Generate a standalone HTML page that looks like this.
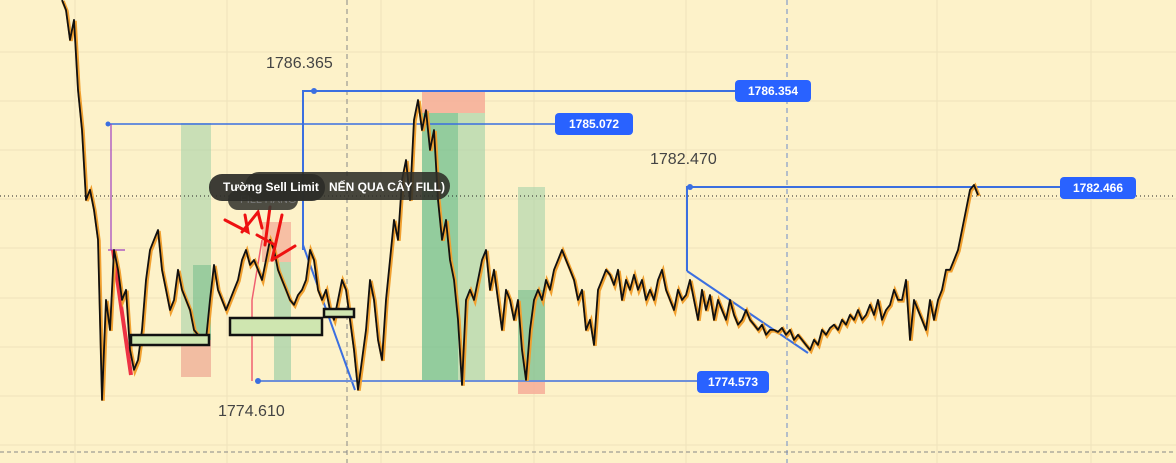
<!DOCTYPE html>
<html><head><meta charset="utf-8"><style>
html,body{margin:0;padding:0;background:#fdf2c9;}
svg{display:block;font-family:"Liberation Sans","Noto Sans CJK SC",sans-serif;}
</style></head><body>
<svg id="chart" width="1176" height="463" viewBox="0 0 1176 463" xmlns="http://www.w3.org/2000/svg">
<rect x="0" y="0" width="1176" height="463" fill="#fdf2c9"/>
<g id="grid" stroke="#efe3bc" stroke-width="1"></g>
<g>
<rect x="181" y="123" width="30" height="254" fill="#9fd0a6" opacity="0.55"/>
<rect x="193" y="265" width="18" height="75" fill="#7cc08e" opacity="0.6"/>
<rect x="181" y="340" width="30" height="37" fill="#f6b9a0" opacity="0.9"/>
<rect x="274" y="262" width="17" height="119" fill="#9fd0a6" opacity="0.7"/>
<rect x="262" y="222" width="29" height="40" fill="#f6b9a0" opacity="0.9"/>
<rect x="422" y="113" width="36" height="268" fill="#6fbf8e" opacity="0.75"/>
<rect x="458" y="113" width="27" height="268" fill="#9fd0a6" opacity="0.6"/>
<rect x="422" y="91" width="63" height="22" fill="#f6b09a" opacity="0.9"/>
<rect x="518" y="187" width="27" height="194" fill="#9fd0a6" opacity="0.55"/>
<rect x="518" y="290" width="27" height="91" fill="#7cc08e" opacity="0.6"/>
<rect x="518" y="381" width="27" height="13" fill="#f6b09a" opacity="0.9"/>
</g>
<g>
<line x1="347" y1="0" x2="347" y2="463" stroke="#888" stroke-dasharray="5,4"/>
<line x1="787" y1="0" x2="787" y2="463" stroke="#6b8bc9" stroke-dasharray="5,4"/>
<line x1="0" y1="196" x2="1176" y2="196" stroke="#222" stroke-dasharray="1,3"/>
<line x1="0" y1="452" x2="1176" y2="452" stroke="#888" stroke-dasharray="4,3"/>
</g>
<g fill="none">
<polyline points="303,250 303,91 735,91" stroke="#3b6fe0" stroke-width="2"/>
<line x1="303" y1="245" x2="355" y2="390" stroke="#3b6fe0" stroke-width="2"/>
<line x1="108" y1="124" x2="555" y2="124" stroke="#3b6fe0" stroke-width="1.5"/>
<line x1="258" y1="381" x2="697" y2="381" stroke="#6d8fd8" stroke-width="2"/>
<polyline points="687,271 687,187 1060,187" stroke="#3b6fe0" stroke-width="2"/>
<line x1="687" y1="271" x2="808" y2="353" stroke="#3b6fe0" stroke-width="2"/>
<polyline points="111,124 111,250 108,250 125,250" stroke="#a040c0" stroke-width="1.2"/>
<polyline points="252,381 252,300 262,240" stroke="#f06070" stroke-width="1.5"/>
<line x1="113" y1="250" x2="131" y2="375" stroke="#ee3344" stroke-width="4"/>
<circle cx="314" cy="91" r="3" fill="#3b6fe0"/>
<circle cx="258" cy="381" r="3" fill="#3b6fe0"/>
<circle cx="690" cy="187" r="3" fill="#3b6fe0"/>
<circle cx="108" cy="124" r="2.5" fill="#3b6fe0"/>
</g>
<g id="series"></g>
<g>
<rect x="131" y="335" width="78" height="10" fill="#cfe6b0" stroke="#111" stroke-width="2.5"/>
<rect x="230" y="318" width="92" height="17" fill="#cfe6b0" stroke="#111" stroke-width="2.5"/>
<rect x="324" y="309" width="30" height="8" fill="#cfe6b0" stroke="#111" stroke-width="2.5"/>
</g>
<g stroke="#ee1111" stroke-width="3" fill="none" stroke-linecap="round">
<polyline points="225,220 248,232 245,215"/>
<polyline points="242,232 258,212 262,228"/>
<line x1="270" y1="207" x2="265" y2="245"/>
<line x1="282" y1="215" x2="272" y2="260"/>
<polyline points="272,260 295,246"/>
<line x1="257" y1="235" x2="275" y2="245"/>
</g>
<g>
<rect x="228" y="190" width="70" height="20" rx="10" fill="#3a3a33" opacity="0.9"/>
<text x="240" y="203" font-size="11" fill="#777">FILL HÀNG</text>
<rect x="245" y="172" width="205" height="28" rx="14" fill="#2d2d28" opacity="0.88"/>
<text x="329" y="191" font-size="12" font-weight="bold" fill="#fff">NẾN QUA CÂY FILL)</text>
<rect x="209" y="174" width="116" height="27" rx="13" fill="#2d2d28" opacity="0.92"/>
<text x="223" y="191" font-size="12" font-weight="bold" fill="#fff">Tường Sell Limit</text>
</g>
<g font-size="16" fill="#444">
<text x="266" y="68">1786.365</text>
<text x="650" y="164">1782.470</text>
<text x="218" y="416">1774.610</text>
</g>
<g font-size="12" font-weight="bold" fill="#fff" text-anchor="middle">
<rect x="735" y="80" width="76" height="22" rx="4" fill="#2962ff"/>
<text x="773" y="95">1786.354</text>
<rect x="555" y="113" width="78" height="22" rx="4" fill="#2962ff"/>
<text x="594" y="128">1785.072</text>
<rect x="1060" y="177" width="76" height="22" rx="4" fill="#2962ff"/>
<text x="1098" y="192">1782.466</text>
<rect x="697" y="371" width="72" height="22" rx="4" fill="#2962ff"/>
<text x="733" y="386">1774.573</text>
</g>
</svg>
<script>
const gridX = [75, 227, 381, 534, 686, 937, 1091];
const gridY = [52, 101, 150, 199, 248, 298, 347, 396, 445];
const prices = [1790.05,1789.64,1788.43,1789.24,1786.40,1784.77,1781.93,1782.34,1781.52,1780.31,
1773.81,1777.87,1776.65,1779.90,1779.09,1777.87,1778.28,1775.84,1775.03,1775.43,1776.65,1778.68,1779.90,1780.31,1780.71,1779.09,1778.28,1777.46,1777.87,1779.09,1778.28,1777.87,1777.46,1776.65,1776.45,1776.25,1776.25,1777.87,1779.29,1778.28,1777.87,1777.46,1777.87,1778.28,1778.68,1779.49,1779.90,1779.29,1779.49,1779.09,1778.68,1779.49,1780.31,1779.90,1779.09,1778.68,1778.28,1777.87,1777.67,1778.07,1778.28,1778.68,1779.90,1779.49,1778.28,1777.87,1778.28,1777.46,1777.06,1777.87,1778.68,1778.28,1777.06,1775.84,1774.22,1775.43,1776.65,1778.68,1777.87,1776.25,1775.43,1777.87,1779.49,1781.12,1780.31,1782.74,1783.55,1781.93,1785.18,1785.99,1784.77,1785.58,1783.96,1784.77,1781.93,1780.31,1781.12,1779.49,1778.68,1777.06,1774.42,1777.87,1778.28,1777.87,1778.68,1779.49,1779.90,1778.28,1779.09,1777.87,1776.65,1778.28,1777.87,1777.06,1777.87,1775.84,1774.62,1776.65,1777.87,1778.28,1777.87,1778.68,1778.28,1779.09,1779.49,1779.90,1779.49,1779.09,1778.68,1777.87,1778.28,1776.65,1777.06,1776.04,1778.28,1778.68,1779.09,1778.89,1778.48,1779.09,1777.87,1778.68,1778.28,1778.89,1778.28,1778.68,1777.87,1778.28,1777.87,1778.68,1779.09,1778.28,1777.87,1777.46,1778.28,1777.87,1778.07,1778.68,1777.87,1777.06,1778.28,1777.46,1778.07,1777.06,1777.87,1777.46,1777.06,1777.87,1777.26,1776.86,1777.06,1777.46,1777.06,1776.86,1776.65,1776.86,1776.45,1776.65,1776.65,1776.57,1776.73,1776.45,1776.65,1776.25,1776.45,1776.25,1776.04,1775.84,1776.25,1776.04,1776.65,1776.45,1776.73,1776.86,1776.65,1777.06,1776.86,1777.26,1777.06,1777.46,1777.06,1777.26,1777.67,1777.26,1777.87,1777.06,1777.46,1777.67,1778.28,1777.87,1777.87,1778.68,1776.25,1777.87,1777.46,1777.06,1776.65,1777.87,1777.06,1777.87,1778.28,1779.09,1779.09,1779.49,1779.90,1780.71,1781.52,1782.34,1782.54,1782.13];
const xStart = 62, xStep = 4;
const refPrice = 1786.354, refY = 91, pxPerUnit = 24.62;
function xScale(i){ return xStart + i*xStep; }
function yScale(p){ return refY + (refPrice - p)*pxPerUnit; }
const NS = "http://www.w3.org/2000/svg";
const grid = document.getElementById('grid');
gridX.forEach(x => {
  const l = document.createElementNS(NS,'line');
  
  
  l.setAttribute('x1', x); l.setAttribute('x2', x); l.setAttribute('y1', 0); l.setAttribute('y2', 463);
  grid.appendChild(l);
});
gridY.forEach(y => {
  const l = document.createElementNS(NS,'line');
  
  
  l.setAttribute('x1', 0); l.setAttribute('x2', 1176); l.setAttribute('y1', y); l.setAttribute('y2', y);
  grid.appendChild(l);
});
const pts = prices.map((p,i) => xScale(i).toFixed(1) + ',' + yScale(p).toFixed(1)).join(' ');
const g = document.getElementById('series');
const under = document.createElementNS(NS,'polyline');


under.setAttribute('points', pts);
under.setAttribute('fill', 'none'); under.setAttribute('stroke', '#f0a030'); under.setAttribute('stroke-width', '3.5');
under.setAttribute('transform', 'translate(1,1)');
g.appendChild(under);
const line = document.createElementNS(NS,'polyline');


line.setAttribute('points', pts);
line.setAttribute('fill', 'none'); line.setAttribute('stroke', '#111'); line.setAttribute('stroke-width', '1.8');
line.setAttribute('stroke-linejoin', 'round');
g.appendChild(line);
</script>
</body></html>
